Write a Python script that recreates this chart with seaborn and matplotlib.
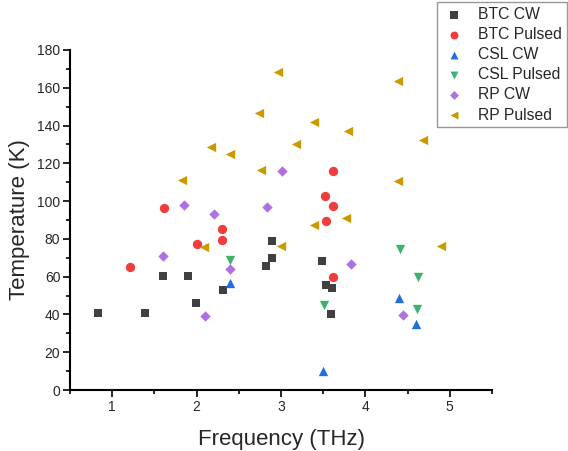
import pandas as pd
import matplotlib.pyplot as plt
import matplotlib.ticker as mticker
import seaborn as sns

# data
btc_cw_x = [0.83, 1.39, 1.60, 1.90, 1.99, 2.31, 2.82, 2.89, 2.89, 3.48, 3.53, 3.61, 3.59]
btc_cw_y = [40.6, 40.6, 60.2, 60.2, 46.1, 52.8, 65.6, 69.7, 78.9, 68.3, 55.4, 53.8, 40.1]

btc_pulsed_x = [1.21, 1.61, 2.00, 2.30, 2.30, 3.52, 3.53, 3.62, 3.62, 3.62]
btc_pulsed_y = [65.1, 96.3, 77.3, 85.2, 79.4, 102.9, 89.5, 97.4, 115.9, 59.7]

csl_cw_x = [2.40, 3.50, 4.40, 4.60]
csl_cw_y = [56.5, 10.2, 48.5, 35.1]

csl_pulsed_x = [2.39, 3.51, 4.41, 4.62, 4.61]
csl_pulsed_y = [68.8, 45.0, 74.6, 59.7, 42.9]

rp_cw_x = [1.60, 1.85, 2.21, 2.39, 2.10, 2.83, 3.01, 3.83, 4.44]
rp_cw_y = [70.8, 97.9, 93.2, 64.1, 39.0, 96.9, 115.9, 66.7, 39.5]

rp_pulsed_x = [2.97, 2.74, 2.17, 2.40, 3.18, 2.76, 1.83, 4.39, 3.39, 3.79,
               4.68, 4.39, 2.09, 3.00, 3.39, 3.77, 4.90]
rp_pulsed_y = [168.5, 146.8, 128.8, 124.9, 130.4, 116.5, 111.2, 163.8, 141.9, 137.3,
               132.5, 110.6, 75.5, 76.2, 87.3, 91.0, 76.2]

series = {
    "BTC CW": (btc_cw_x, btc_cw_y),
    "BTC Pulsed": (btc_pulsed_x, btc_pulsed_y),
    "CSL CW": (csl_cw_x, csl_cw_y),
    "CSL Pulsed": (csl_pulsed_x, csl_pulsed_y),
    "RP CW": (rp_cw_x, rp_cw_y),
    "RP Pulsed": (rp_pulsed_x, rp_pulsed_y),
}

colors = {
    "BTC CW": "#404040",
    "BTC Pulsed": "#f03c3c",
    "CSL CW": "#1f6fe0",
    "CSL Pulsed": "#3cb36e",
    "RP CW": "#b070e0",
    "RP Pulsed": "#cc9900",
}
markers = {
    "BTC CW": "s",
    "BTC Pulsed": "o",
    "CSL CW": "^",
    "CSL Pulsed": "v",
    "RP CW": "D",
    "RP Pulsed": "<",
}
sizes = {"BTC CW": 36, "BTC Pulsed": 45, "CSL CW": 45, "CSL Pulsed": 45,
         "RP CW": 28, "RP Pulsed": 45}

sns.set_style("ticks")
plt.rcParams["font.family"] = ["Liberation Sans", "DejaVu Sans"]

fig = plt.figure(figsize=(5.68, 4.51), dpi=100)
ax = fig.add_axes([70 / 568, 61 / 451, 422 / 568, 340 / 451])

for name, (xs, ys) in series.items():
    d = pd.DataFrame({"freq": xs, "temp": ys})
    sns.scatterplot(data=d, x="freq", y="temp", color=colors[name],
                    marker=markers[name], s=sizes[name], linewidth=0,
                    ax=ax, label=name)

ax.set_xlim(0.5, 5.5)
ax.set_ylim(0, 180)
ax.xaxis.set_major_locator(mticker.MultipleLocator(1))
ax.xaxis.set_minor_locator(mticker.MultipleLocator(0.5))
ax.yaxis.set_major_locator(mticker.MultipleLocator(20))
ax.yaxis.set_minor_locator(mticker.MultipleLocator(10))
ax.tick_params(which="major", length=5, width=1.2, labelsize=10, color="black", pad=2)
ax.tick_params(which="minor", length=3, width=1.2, color="black")
for side in ["left", "bottom"]:
    ax.spines[side].set_linewidth(1.5)
    ax.spines[side].set_color("black")
sns.despine(ax=ax)

ax.set_xlabel("Frequency (THz)", fontsize=16, labelpad=11)
ax.set_ylabel("Temperature (K)", fontsize=16, labelpad=5)

ax.legend(loc="upper right", bbox_to_anchor=(567 / 568, 449 / 451),
          bbox_transform=fig.transFigure, fontsize=11.3, frameon=True, fancybox=False,
          edgecolor="#999999", handletextpad=0.75, borderpad=0.3, labelspacing=0.33,
          handlelength=1.6, borderaxespad=0, markerscale=0.85, framealpha=1)

plt.savefig("out.png", dpi=100)
plt.close()
